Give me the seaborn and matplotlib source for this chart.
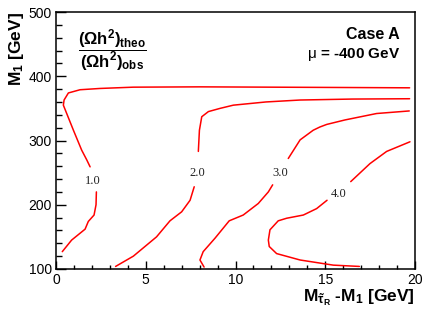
import numpy as np
import pandas as pd
import seaborn as sns
import matplotlib.pyplot as plt

# contour lines, each level split in two at its label
lvl_1_lo_x = [0.35, 0.87, 1.62, 1.8, 2.12, 2.23, 2.25]
lvl_1_lo_y = [127, 145, 162, 174, 184, 200, 220]
lvl_1_hi_x = [1.9, 1.71, 1.43, 0.97, 0.41, 0.45, 0.69, 1.34, 2.45, 4.3, 8, 12, 16, 19.7]
lvl_1_hi_y = [259, 270, 285, 316, 355, 363, 374, 379, 381, 383, 383.5, 383, 382.5, 382]

lvl_2_lo_x = [3.32, 4.31, 5.6, 6.35, 7.0, 7.47, 7.7]
lvl_2_lo_y = [104, 120, 150, 175, 189, 207, 228]
lvl_2_hi_x = [7.93, 7.99, 8.12, 8.49, 9.14, 9.88, 11.7, 13.6, 16.5, 19.7]
lvl_2_hi_y = [283, 316, 337, 345, 350, 355, 360, 363, 364.5, 365]

lvl_3_lo_x = [8.25, 8.02, 8.2, 8.86, 9.65, 10.43, 11.27, 11.83, 12.07]
lvl_3_lo_y = [103, 114, 127, 148, 175, 184, 202, 220, 231]
lvl_3_hi_x = [12.94, 13.6, 14.33, 14.7, 15.08, 16.1, 17.86, 19.68]
lvl_3_hi_y = [272, 301, 316, 321, 325, 332, 342, 346]

lvl_4_lo_x = [16.9, 15.45, 13.6, 12.29, 11.88, 11.83, 11.92, 12.38, 12.85, 13.78, 14.52, 15.1]
lvl_4_lo_y = [104, 106, 114, 124, 135, 145, 161, 175, 179, 184, 194, 207]
lvl_4_hi_x = [16.42, 17.49, 18.42, 19.72]
lvl_4_hi_y = [236, 264, 283, 298]

segments = [
    (lvl_1_lo_x, lvl_1_lo_y), (lvl_1_hi_x, lvl_1_hi_y),
    (lvl_2_lo_x, lvl_2_lo_y), (lvl_2_hi_x, lvl_2_hi_y),
    (lvl_3_lo_x, lvl_3_lo_y), (lvl_3_hi_x, lvl_3_hi_y),
    (lvl_4_lo_x, lvl_4_lo_y), (lvl_4_hi_x, lvl_4_hi_y),
]

# label text and where it sits on its line
level_labels = ['1.0', '2.0', '3.0', '4.0']
label_x = [2.04, 7.89, 12.48, 15.77]
label_y = [237, 249, 250, 217]

sns.set_style('ticks')
plt.rcParams['font.family'] = ['Liberation Sans', 'DejaVu Sans']
plt.rcParams['mathtext.fontset'] = 'custom'
plt.rcParams['mathtext.rm'] = 'Liberation Sans'
plt.rcParams['mathtext.bf'] = 'Liberation Sans:bold'
plt.rcParams['mathtext.it'] = 'Liberation Sans:italic'
for key in ['text.color', 'axes.labelcolor', 'xtick.color', 'ytick.color', 'axes.edgecolor']:
    plt.rcParams[key] = 'black'

fig = plt.figure(figsize=(4.33, 3.14), dpi=100)
ax = fig.add_axes([56 / 433, 45 / 314, 359 / 433, 257 / 314])

for xs, ys in segments:
    sns.lineplot(x=xs, y=ys, sort=False, estimator=None, color='red', linewidth=1.1, ax=ax)

for txt, lx, ly in zip(level_labels, label_x, label_y):
    ax.text(lx, ly, txt, ha='center', va='center', fontsize=9,
            family='Liberation Serif', color='#222222')

ax.set_xlim(0, 20)
ax.set_ylim(100, 500)
ax.set_xticks([0, 5, 10, 15, 20])
ax.set_yticks([100, 200, 300, 400, 500])
ax.set_xticks(np.arange(0, 21, 1), minor=True)
ax.set_yticks(np.arange(100, 501, 20), minor=True)
ax.tick_params(axis='both', which='both', direction='in', labelsize=10, width=1,
               color='black', labelcolor='black')
ax.tick_params(axis='x', which='major', length=6, pad=3)
ax.tick_params(axis='x', which='minor', length=3)
ax.tick_params(axis='y', which='major', length=7, pad=3)
ax.tick_params(axis='y', which='minor', length=4)
for sp in ax.spines.values():
    sp.set_visible(True)
    sp.set_linewidth(1.1)
    sp.set_color('black')

ax.set_xlabel(r'$\mathbf{M_{\tilde{\tau}_R}}$ -$\mathbf{M_1}$ [GeV]', loc='right',
              fontsize=12.5, fontweight='bold', labelpad=0)
ax.set_ylabel(r'$\mathbf{M_1}$ [GeV]', loc='top', fontsize=12.5, fontweight='bold', labelpad=2)

ax.text(0.958, 0.914, 'Case A', transform=ax.transAxes, ha='right', va='center',
        fontsize=11.5, fontweight='bold')
ax.text(0.958, 0.833, r'$\mathrm{\mu}$ = -400 GeV', transform=ax.transAxes, ha='right',
        va='center', fontsize=11, fontweight='bold')
ax.text(0.156, 0.852, r'$\mathbf{\dfrac{(\Omega h^2)_{theo}}{(\Omega h^2)_{obs}}}$',
        transform=ax.transAxes, ha='center', va='center', fontsize=12)

fig.savefig('out.png', dpi=100)
